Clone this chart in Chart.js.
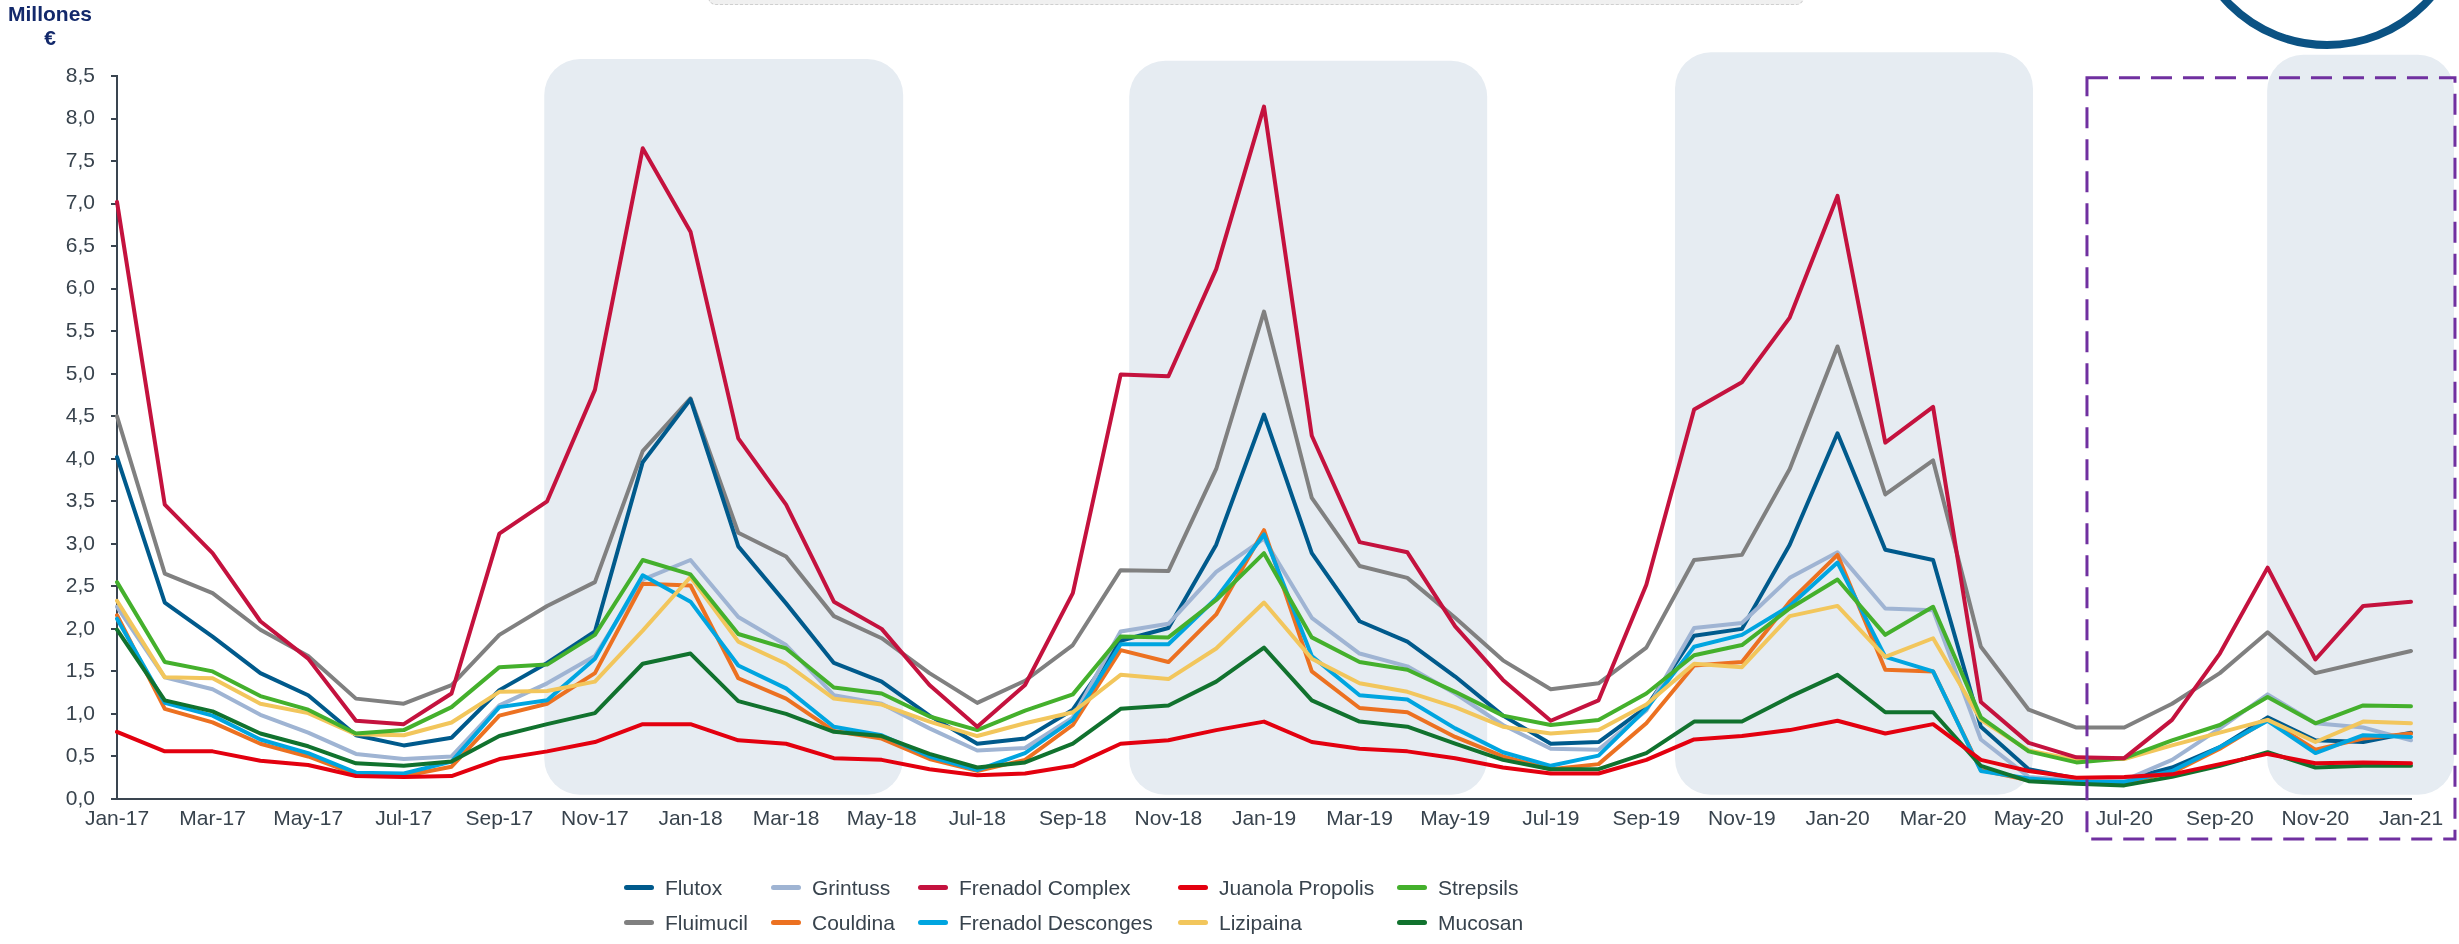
<!DOCTYPE html>
<html lang="es">
<head>
<meta charset="utf-8">
<title>Ventas mensuales por marca</title>
<script src="https://cdn.jsdelivr.net/npm/chart.js@4.4.1/dist/chart.umd.min.js"></script>
<style>
  html, body { margin: 0; padding: 0; background: #fff; }
  body { width: 2459px; height: 944px; position: relative; overflow: hidden; font-family: 'Liberation Sans', Arial, sans-serif; }
  #chart { position: absolute; left: 0; top: 0; }
  .unit { position: absolute; left: 0; top: 2px; width: 100px; text-align: center; color: #13296b; font-weight: bold; font-size: 21px; line-height: 24px; }
  .topbar { position: absolute; left: 708px; top: -30px; width: 1096px; height: 35px; box-sizing: border-box; background: #f0f0f0; border: 1.5px dashed #cfcfcf; border-radius: 8px; }
  .ring { position: absolute; left: 2186px; top: -233px; width: 282px; height: 282px; box-sizing: border-box; border: 8px solid #0b5283; border-radius: 50%; }
  .legend { position: absolute; left: 624px; top: 870px; display: grid; grid-template-columns: 147px 147px 260px 219px 140px; grid-auto-rows: 35px; color: #38434d; font-size: 21px; }
  .legend span { display: flex; align-items: center; white-space: nowrap; }
  .legend i { display: inline-block; width: 30px; height: 5px; border-radius: 3px; margin-right: 11px; }
</style>
</head>
<body>
<div class="topbar"></div>
<div class="ring"></div>
<canvas id="chart" width="2459" height="944"></canvas>
<div class="unit">Millones<br>€</div>
<div class="legend" id="legend"></div>

<script>
// months Jan-17 .. Jan-21
const months = [
  'Jan-17', 'Feb-17', 'Mar-17', 'Apr-17', 'May-17', 'Jun-17', 'Jul-17', 'Aug-17', 'Sep-17', 'Oct-17', 'Nov-17', 'Dec-17',
  'Jan-18', 'Feb-18', 'Mar-18', 'Apr-18', 'May-18', 'Jun-18', 'Jul-18', 'Aug-18', 'Sep-18', 'Oct-18', 'Nov-18', 'Dec-18',
  'Jan-19', 'Feb-19', 'Mar-19', 'Apr-19', 'May-19', 'Jun-19', 'Jul-19', 'Aug-19', 'Sep-19', 'Oct-19', 'Nov-19', 'Dec-19',
  'Jan-20', 'Feb-20', 'Mar-20', 'Apr-20', 'May-20', 'Jun-20', 'Jul-20', 'Aug-20', 'Sep-20', 'Oct-20', 'Nov-20', 'Dec-20',
  'Jan-21'
];

// sales, millions of euros
const flutox = [
  4.02, 2.31, 1.91, 1.48, 1.22, 0.75, 0.63, 0.72, 1.28, 1.60, 1.97, 3.96,
  4.70, 2.97, 2.30, 1.60, 1.38, 0.98, 0.65, 0.71, 1.05, 1.86, 2.01, 2.99,
  4.52, 2.89, 2.09, 1.85, 1.44, 0.98, 0.65, 0.67, 1.08, 1.92, 2.00, 2.99,
  4.30, 2.93, 2.81, 0.85, 0.35, 0.24, 0.22, 0.37, 0.61, 0.96, 0.69, 0.67,
  0.78
];
const fluimucil = [
  4.50, 2.65, 2.42, 1.99, 1.68, 1.18, 1.12, 1.34, 1.93, 2.27, 2.55, 4.09,
  4.71, 3.13, 2.85, 2.15, 1.89, 1.48, 1.13, 1.39, 1.81, 2.69, 2.68, 3.88,
  5.73, 3.54, 2.74, 2.60, 2.13, 1.63, 1.29, 1.36, 1.78, 2.81, 2.87, 3.88,
  5.32, 3.58, 3.98, 1.79, 1.05, 0.84, 0.84, 1.12, 1.48, 1.96, 1.48, 1.61,
  1.74
];
const grintuss = [
  2.26, 1.43, 1.29, 0.99, 0.78, 0.53, 0.47, 0.50, 1.10, 1.36, 1.68, 2.58,
  2.81, 2.14, 1.81, 1.22, 1.12, 0.83, 0.57, 0.60, 0.96, 1.97, 2.06, 2.67,
  3.06, 2.13, 1.71, 1.56, 1.24, 0.87, 0.59, 0.58, 1.04, 2.01, 2.07, 2.60,
  2.90, 2.24, 2.22, 0.70, 0.26, 0.22, 0.22, 0.46, 0.83, 1.23, 0.89, 0.84,
  0.69
];
const couldina = [
  2.16, 1.06, 0.90, 0.65, 0.50, 0.29, 0.27, 0.38, 0.98, 1.12, 1.48, 2.53,
  2.51, 1.42, 1.18, 0.80, 0.71, 0.47, 0.33, 0.46, 0.87, 1.75, 1.61, 2.17,
  3.16, 1.50, 1.07, 1.02, 0.73, 0.50, 0.35, 0.41, 0.89, 1.57, 1.61, 2.32,
  2.87, 1.52, 1.50, 0.34, 0.22, 0.19, 0.19, 0.31, 0.59, 0.93, 0.58, 0.71,
  0.77
];
const frenadolComplex = [
  7.02, 3.46, 2.89, 2.09, 1.65, 0.92, 0.88, 1.24, 3.12, 3.50, 4.81, 7.65,
  6.67, 4.24, 3.46, 2.32, 2.00, 1.34, 0.85, 1.34, 2.42, 4.99, 4.97, 6.23,
  8.14, 4.27, 3.02, 2.90, 2.03, 1.40, 0.92, 1.16, 2.52, 4.58, 4.90, 5.66,
  7.09, 4.19, 4.61, 1.14, 0.66, 0.49, 0.48, 0.93, 1.71, 2.72, 1.64, 2.27,
  2.32
];
const frenadolDescong = [
  2.12, 1.13, 0.98, 0.70, 0.54, 0.31, 0.30, 0.44, 1.08, 1.16, 1.65, 2.63,
  2.32, 1.57, 1.30, 0.85, 0.75, 0.50, 0.34, 0.54, 0.93, 1.82, 1.82, 2.36,
  3.11, 1.68, 1.22, 1.17, 0.83, 0.55, 0.39, 0.51, 1.06, 1.79, 1.93, 2.27,
  2.78, 1.67, 1.50, 0.33, 0.24, 0.20, 0.20, 0.33, 0.61, 0.92, 0.54, 0.75,
  0.73
];
const juanola = [
  0.79, 0.56, 0.56, 0.45, 0.40, 0.27, 0.26, 0.27, 0.47, 0.56, 0.67, 0.88,
  0.88, 0.69, 0.65, 0.48, 0.46, 0.35, 0.28, 0.30, 0.39, 0.65, 0.69, 0.81,
  0.91, 0.67, 0.59, 0.56, 0.48, 0.37, 0.30, 0.30, 0.46, 0.70, 0.74, 0.81,
  0.92, 0.77, 0.88, 0.46, 0.33, 0.25, 0.26, 0.29, 0.41, 0.53, 0.42, 0.43,
  0.42
];
const lizipaina = [
  2.33, 1.43, 1.42, 1.12, 1.01, 0.76, 0.75, 0.90, 1.26, 1.27, 1.38, 1.98,
  2.61, 1.85, 1.59, 1.18, 1.11, 0.91, 0.74, 0.89, 1.02, 1.46, 1.41, 1.77,
  2.31, 1.65, 1.36, 1.26, 1.08, 0.85, 0.77, 0.81, 1.11, 1.59, 1.55, 2.15,
  2.27, 1.67, 1.89, 0.93, 0.57, 0.46, 0.47, 0.63, 0.78, 0.93, 0.67, 0.91,
  0.89
];
const strepsils = [
  2.55, 1.61, 1.50, 1.21, 1.05, 0.77, 0.81, 1.08, 1.55, 1.58, 1.93, 2.81,
  2.64, 1.94, 1.77, 1.31, 1.24, 0.97, 0.81, 1.04, 1.23, 1.91, 1.90, 2.34,
  2.89, 1.90, 1.61, 1.52, 1.26, 0.98, 0.87, 0.93, 1.24, 1.69, 1.81, 2.24,
  2.58, 1.93, 2.26, 0.96, 0.56, 0.43, 0.48, 0.69, 0.87, 1.20, 0.89, 1.10,
  1.09
];
const mucosan = [
  1.99, 1.16, 1.03, 0.77, 0.62, 0.42, 0.39, 0.44, 0.74, 0.88, 1.01, 1.59,
  1.71, 1.15, 1.00, 0.79, 0.74, 0.53, 0.37, 0.43, 0.65, 1.06, 1.10, 1.38,
  1.78, 1.16, 0.91, 0.85, 0.65, 0.46, 0.35, 0.35, 0.54, 0.91, 0.91, 1.20,
  1.46, 1.02, 1.02, 0.39, 0.21, 0.18, 0.16, 0.26, 0.39, 0.55, 0.37, 0.39,
  0.39
];

// legend order (row by row), with colours and drawing order (lower = on top)
const series = [
  { label: 'Flutox', data: flutox, color: '#005a8c', order: 8 },
  { label: 'Grintuss', data: grintuss, color: '#9fb4d3', order: 7 },
  { label: 'Frenadol Complex', data: frenadolComplex, color: '#c4123e', order: 2 },
  { label: 'Juanola Propolis', data: juanola, color: '#e3000f', order: 0 },
  { label: 'Strepsils', data: strepsils, color: '#44b02c', order: 3 },
  { label: 'Fluimucil', data: fluimucil, color: '#808080', order: 9 },
  { label: 'Couldina', data: couldina, color: '#ec7121', order: 6 },
  { label: 'Frenadol Desconges', data: frenadolDescong, color: '#00a5e0', order: 5 },
  { label: 'Lizipaina', data: lizipaina, color: '#f2c65c', order: 4 },
  { label: 'Mucosan', data: mucosan, color: '#11722e', order: 1 },
];

// shaded seasons, in month index units [from, to, top value]
const seasons = [
  [8.94, 16.45, 8.70],
  [21.18, 28.67, 8.68],
  [32.60, 40.09, 8.78],
  [44.99, 48.90, 8.75],
];
// dashed highlight box, month index / value units
const highlight = { from: 41.22, to: 48.92, top: 8.48, bottom: -0.47 };

const FONT = "'Liberation Sans', Arial, sans-serif";
const AXIS = '#3a4550';
const TEXT = '#38434d';

// Draw rounded shaded bands behind the lines, dashed box on top
const bandsPlugin = {
  id: 'bands',
  beforeDatasetsDraw(chart) {
    const { ctx, scales: { x, y } } = chart;
    ctx.save();
    ctx.fillStyle = '#e6ecf2';
    seasons.forEach(([a, b, top]) => {
      const left = x.getPixelForValue(a);
      const right = x.getPixelForValue(b);
      const t = y.getPixelForValue(top);
      const bottom = y.getPixelForValue(0.05);
      ctx.beginPath();
      ctx.roundRect(left, t, right - left, bottom - t, 36);
      ctx.fill();
    });
    ctx.restore();
  },
  afterDraw(chart) {
    const { ctx, scales: { x, y } } = chart;
    const left = x.getPixelForValue(highlight.from);
    const right = x.getPixelForValue(highlight.to);
    const top = y.getPixelForValue(highlight.top);
    const bottom = y.getPixelForValue(highlight.bottom);
    ctx.save();
    ctx.strokeStyle = '#7030a0';
    ctx.lineWidth = 3;
    ctx.setLineDash([21, 11]);
    ctx.strokeRect(left, top, right - left, bottom - top);
    ctx.restore();
  }
};

const ctx = document.getElementById('chart').getContext('2d');

new Chart(ctx, {
  type: 'line',
  data: {
    labels: months,
    datasets: series.map(s => ({
      label: s.label,
      data: s.data,
      borderColor: s.color,
      backgroundColor: s.color,
      borderWidth: 4,
      borderJoinStyle: 'round',
      borderCapStyle: 'round',
      pointRadius: 0,
      tension: 0,
      order: s.order,
    })),
  },
  options: {
    responsive: false,
    animation: false,
    layout: { padding: { left: 0, right: 48, top: 76, bottom: 100 } },
    plugins: {
      legend: { display: false },
      tooltip: { enabled: false },
    },
    scales: {
      x: {
        offset: false,
        grid: { display: false, drawTicks: false },
        border: { display: true, color: AXIS, width: 2 },
        ticks: {
          autoSkip: false,
          maxRotation: 0,
          padding: 8,
          color: TEXT,
          font: { family: FONT, size: 21 },
          callback: (v, i) => (i % 2 === 0 ? months[i] : ''),
        },
        afterFit: s => { s.height = 45; },
      },
      y: {
        min: 0,
        max: 8.5,
        grid: { drawOnChartArea: false, drawTicks: true, tickLength: 6, color: AXIS, lineWidth: 2 },
        border: { display: true, color: AXIS, width: 2 },
        ticks: {
          stepSize: 0.5,
          padding: 16,
          color: TEXT,
          font: { family: FONT, size: 21 },
          callback: v => v.toFixed(1).replace('.', ','),
        },
        afterFit: s => { s.width = 117; },
      },
    },
  },
  plugins: [bandsPlugin],
});

// legend grid, same layout as the original (5 columns x 2 rows)
const legendEl = document.getElementById('legend');
series.forEach(s => {
  const item = document.createElement('span');
  const mark = document.createElement('i');
  mark.style.background = s.color;
  item.appendChild(mark);
  item.appendChild(document.createTextNode(s.label));
  legendEl.appendChild(item);
});
</script>
</body>
</html>
